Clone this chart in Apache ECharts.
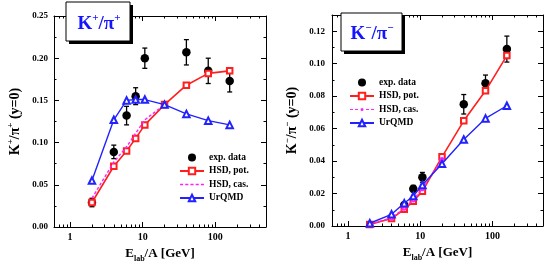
<!DOCTYPE html>
<html><head><meta charset="utf-8">
<script src="https://cdn.jsdelivr.net/npm/echarts@6/dist/echarts.min.js"></script>
<style>html,body{margin:0;padding:0;background:#fff}#c{width:545px;height:263px}</style>
</head><body><div id="c"></div>
<script>
// ---- data ----
const energies = [2, 4, 6, 8, 10.7, 20, 40, 80, 158];
const casEnergies = [2, 4, 6, 8, 10.7, 20];

const expEnergiesL = [2, 4, 6, 8, 10.7, 40, 80, 158];
const expKpPip = [0.029, 0.089, 0.132, 0.155, 0.200, 0.207, 0.185, 0.173];
const expKpPipErr = [0.005, 0.008, 0.011, 0.010, 0.012, 0.015, 0.015, 0.013];
const hsdPotKp = [0.029, 0.072, 0.090, 0.105, 0.121, 0.145, 0.168, 0.182, 0.185];
const hsdCasKp = [0.034, 0.077, 0.095, 0.111, 0.127, 0.145];
const urqmdKp = [0.055, 0.127, 0.150, 0.151, 0.151, 0.145, 0.134, 0.126, 0.121];

const expEnergiesR = [6, 8, 10.7, 40, 80, 158];
const expKmPim = [0.013, 0.023, 0.030, 0.075, 0.088, 0.109];
const expKmPimErr = [0.001, 0.002, 0.003, 0.006, 0.005, 0.008];
const hsdPotKm = [0.001, 0.0046, 0.0103, 0.0152, 0.0214, 0.0426, 0.0648, 0.0833, 0.105];
const hsdCasKm = [0.001, 0.005, 0.011, 0.016, 0.023, 0.041];
const urqmdKm = [0.0017, 0.0072, 0.014, 0.0185, 0.0253, 0.0383, 0.0533, 0.0663, 0.0741];

const xMajorTicks = [1, 10, 100];
const xMinorTicks = [0.6, 0.7, 0.8, 0.9, 2, 3, 4, 5, 6, 7, 8, 9, 20, 30, 40, 50, 60, 70, 80, 90, 200, 300, 400, 500];
const legendNames = ['exp. data', 'HSD, pot.', 'HSD, cas.', 'UrQMD'];

// ---- helpers ----
const FONT = 'Liberation Serif';
const RED = '#ff1f1f', BLUE = '#2222ff', MAG = '#ff22ff';
const zip = (xs, ys) => xs.map((x, i) => [x, ys[i]]);

function xAxes(grid) {
  const base = {type: 'log', gridIndex: grid, min: 0.6, max: 500, splitLine: {show: false}, minorTick: {show: false}};
  return [
    Object.assign({}, base, {
      position: 'bottom',
      axisLine: {lineStyle: {color: '#000', width: 1}},
      axisTick: {inside: true, length: 5, customValues: xMajorTicks, lineStyle: {color: '#000'}},
      axisLabel: {customValues: xMajorTicks, color: '#000', fontFamily: FONT, fontWeight: 'bold', fontSize: 10, margin: 5},
      name: '{b|E}{sub|lab}{b|/A [GeV]}', nameLocation: 'middle', nameGap: 21,
      nameTextStyle: {rich: {
        b: {fontFamily: FONT, fontWeight: 'bold', fontSize: 13, lineHeight: 14, padding: [0, 0, 3, 0], verticalAlign: 'bottom', color: '#000'},
        sub: {fontFamily: FONT, fontWeight: 'bold', fontSize: 8, lineHeight: 9, verticalAlign: 'bottom', color: '#000'}
      }}
    }),
    Object.assign({}, base, {
      position: 'bottom', axisLine: {show: false},
      axisTick: {inside: true, length: 2.5, customValues: xMinorTicks, lineStyle: {color: '#000'}},
      axisLabel: {show: false}
    }),
    Object.assign({}, base, {
      position: 'top', axisLine: {lineStyle: {color: '#000', width: 1}},
      axisTick: {inside: true, length: 5, customValues: xMajorTicks, lineStyle: {color: '#000'}},
      axisLabel: {show: false}
    }),
    Object.assign({}, base, {
      position: 'top', axisLine: {show: false},
      axisTick: {inside: true, length: 2.5, customValues: xMinorTicks, lineStyle: {color: '#000'}},
      axisLabel: {show: false}
    })
  ];
}

function yAxes(grid, max, interval, sign, labelMargin, nameGap) {
  const base = {type: 'value', gridIndex: grid, min: 0, max: max, interval: interval, splitLine: {show: false},
    axisLine: {show: true, lineStyle: {color: '#000', width: 1}},
    axisTick: {inside: true, length: 5, lineStyle: {color: '#000'}},
    minorTick: {show: true, splitNumber: 2, length: 2.5, lineStyle: {color: '#000'}}};
  return [
    Object.assign({}, base, {
      position: 'left',
      axisLabel: {color: '#000', fontFamily: FONT, fontWeight: 'bold', fontSize: 9, margin: labelMargin, showMaxLabel: max === 0.25,
        formatter: v => v.toFixed(2)},
      name: '{b|K}{s|' + sign + '}{b|/π}{s|' + sign + '}{b| (y=0)}', nameLocation: 'middle', nameGap: nameGap, nameRotate: 90,
      nameTextStyle: {rich: {
        b: {fontFamily: FONT, fontWeight: 'bold', fontSize: 14, lineHeight: 16, verticalAlign: 'bottom', color: '#000'},
        s: {fontFamily: FONT, fontWeight: 'bold', fontSize: 9, lineHeight: 10, verticalAlign: 'top', color: '#000'}
      }}
    }),
    Object.assign({}, base, {position: 'right', axisLabel: {show: false}})
  ];
}

function errSeries(xs, ys, es, xi, yi) {
  return {
    type: 'custom', xAxisIndex: xi, yAxisIndex: yi, z: 2, silent: true,
    encode: {x: 0, y: [1, 2]},
    data: xs.map((x, i) => [x, ys[i] - es[i], ys[i] + es[i]]),
    renderItem(params, api) {
      const lo = api.coord([api.value(0), api.value(1)]);
      const hi = api.coord([api.value(0), api.value(2)]);
      const w = 2.5, st = {stroke: '#000', lineWidth: 1.3};
      return {type: 'group', children: [
        {type: 'line', shape: {x1: lo[0], y1: lo[1], x2: hi[0], y2: hi[1]}, style: st},
        {type: 'line', shape: {x1: lo[0] - w, y1: lo[1], x2: lo[0] + w, y2: lo[1]}, style: st},
        {type: 'line', shape: {x1: hi[0] - w, y1: hi[1], x2: hi[0] + w, y2: hi[1]}, style: st}
      ]};
    }
  };
}

function panelSeries(xi, yi, expE, exp, err, pot, cas, urq, casSymbol) {
  return [
    {name: 'exp. data', type: 'scatter', xAxisIndex: xi, yAxisIndex: yi, z: 2, symbol: 'circle', symbolSize: 8.5,
      itemStyle: {color: '#000', opacity: 1}, data: zip(expE, exp)},
    errSeries(expE, exp, err, xi, yi),
    {name: 'HSD, pot.', type: 'line', xAxisIndex: xi, yAxisIndex: yi, z: 4, symbol: 'emptyRect', symbolSize: 5.5,
      itemStyle: {color: RED}, lineStyle: {color: RED, width: 1.6}, data: zip(energies, pot)},
    {name: 'HSD, cas.', type: 'line', xAxisIndex: xi, yAxisIndex: yi, z: 4.5, symbol: casSymbol, symbolSize: 3,
      itemStyle: {color: MAG}, lineStyle: {color: MAG, width: 1.4, type: [3, 2]}, data: zip(casEnergies, cas)},
    {name: 'UrQMD', type: 'line', xAxisIndex: xi, yAxisIndex: yi, z: 5, symbol: 'emptyTriangle', symbolSize: 6.5,
      itemStyle: {color: BLUE}, lineStyle: {color: BLUE, width: 1.4}, data: zip(energies, urq)}
  ];
}

const dashIcon = 'path://M0,4h3v1.4h-3z M5,4h3v1.4h-3z M10,4h3v1.4h-3z M15,4h3v1.4h-3z M20,4h3v1.4h-3z';
const dashDotIcon = 'path://M0,4h3v1h-3z M5,4h3v1h-3z M16,4h3v1h-3z M21,4h3v1h-3z M10.5,4.5a1.5,1.5 0 1,0 3,0a1.5,1.5 0 1,0 -3,0z';

function legendData(casIcon) {
  return legendNames.map(n => n === 'HSD, cas.' ? {name: n, icon: casIcon} : n);
}

const legendBase = {orient: 'vertical', itemWidth: 24, itemHeight: 8, itemGap: 3.5, selectedMode: false,
  textStyle: {fontFamily: FONT, fontWeight: 'bold', fontSize: 9.5, color: '#000', lineHeight: 8},
  padding: 0};

const titleRich = {
  b: {fontFamily: FONT, fontWeight: 'bold', fontSize: 19, lineHeight: 21, verticalAlign: 'bottom', fill: '#1414ff'},
  s: {fontFamily: FONT, fontWeight: 'bold', fontSize: 11, lineHeight: 12, verticalAlign: 'top', fill: '#1414ff'}
};

function titleBox(x, y, w, h, tx, ty, text) {
  return [
    {type: 'rect', shape: {x: x + 3, y: y + 3, width: w, height: h}, z: 10, style: {fill: '#000'}},
    {type: 'rect', shape: {x: x, y: y, width: w, height: h}, z: 11, style: {fill: '#fff', stroke: '#000', lineWidth: 1}},
    {type: 'text', x: tx, y: ty, z: 12, style: {text: text, rich: titleRich, align: 'center', verticalAlign: 'middle'}}
  ];
}

const chart = echarts.init(document.getElementById('c'), null, {renderer: 'canvas'});
chart.setOption({
  animation: false,
  backgroundColor: '#fff',
  grid: [
    {left: 54, top: 16, width: 212, height: 211, containLabel: false, outerBoundsMode: 'none'},
    {left: 332, top: 15, width: 211, height: 211, containLabel: false, outerBoundsMode: 'none'}
  ],
  xAxis: xAxes(0).concat(xAxes(1)),
  yAxis: yAxes(0, 0.25, 0.05, '+', 6, 32).concat(yAxes(1, 0.13, 0.02, '−', 7, 33)),
  legend: [
    Object.assign({}, legendBase, {left: 179, top: 152.5, data: legendData(dashIcon)}),
    Object.assign({}, legendBase, {left: 349, top: 77.5, data: legendData(dashDotIcon)})
  ],
  graphic: titleBox(66, 2, 64, 39, 99, 23, '{b|K}{s|+}{b|/π}{s|+}')
    .concat(titleBox(341, 13, 61, 38, 372, 33, '{b|K}{s|−}{b|/π}{s|−}')),
  series: panelSeries(0, 0, expEnergiesL, expKpPip, expKpPipErr, hsdPotKp, hsdCasKp, urqmdKp, 'none')
    .concat(panelSeries(4, 2, expEnergiesR, expKmPim, expKmPimErr, hsdPotKm, hsdCasKm, urqmdKm, 'emptyCircle'))
});
</script>
</body></html>
